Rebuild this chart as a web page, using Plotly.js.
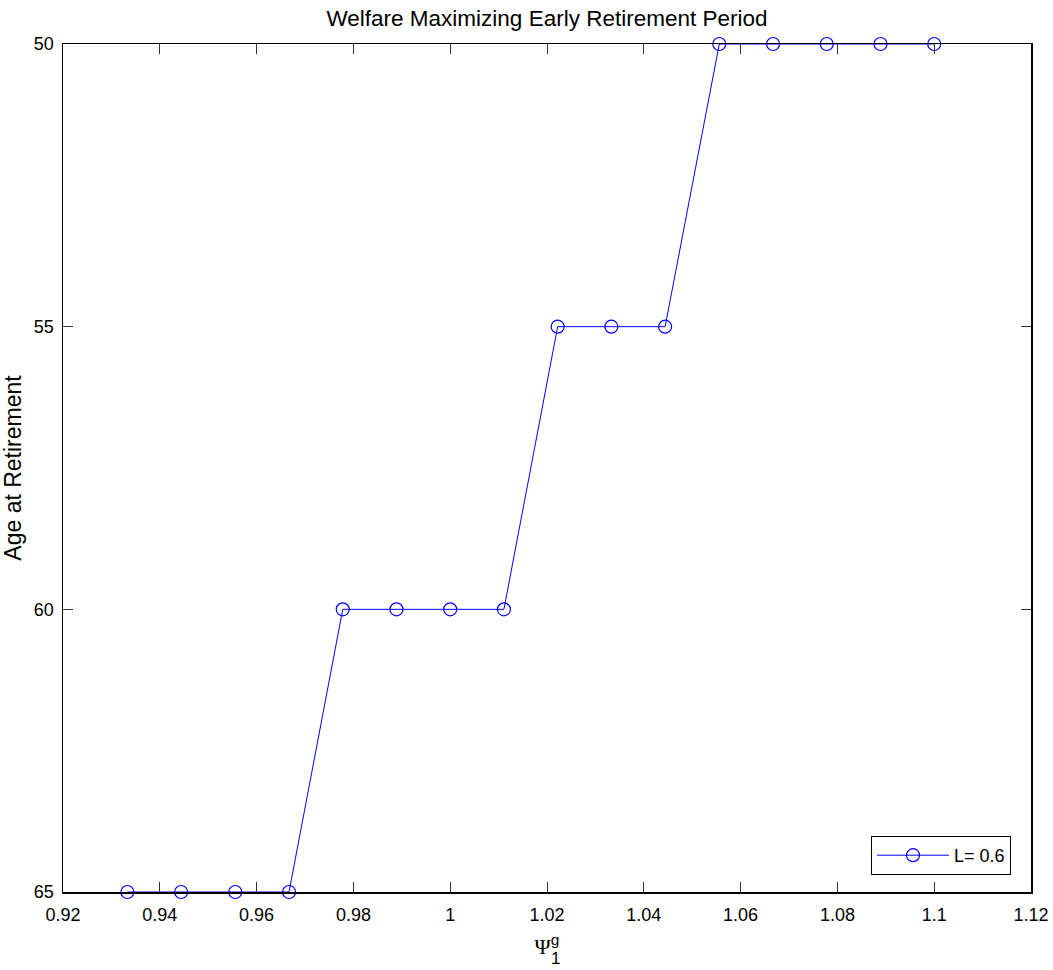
<!DOCTYPE html>
<html>
<head>
<meta charset="utf-8">
<script src="https://cdn.plot.ly/plotly-3.0.1.min.js"></script>
<style>html,body{margin:0;padding:0;background:#fff;}#chart{width:1053px;height:970px;}</style>
</head>
<body>
<div id="chart"></div>
<script>
const psiValues = [0.9333, 0.9444, 0.9556, 0.9667, 0.9778, 0.9889, 1.0, 1.0111, 1.0222, 1.0333, 1.0444, 1.0556, 1.0667, 1.0778, 1.0889, 1.1];
const retirementAge = [65, 65, 65, 65, 60, 60, 60, 60, 55, 55, 55, 50, 50, 50, 50, 50];
const seriesName = 'L= 0.6';
const xTickVals = [0.92, 0.94, 0.96, 0.98, 1.0, 1.02, 1.04, 1.06, 1.08, 1.1, 1.12];
const xTickText = ['0.92', '0.94', '0.96', '0.98', '1', '1.02', '1.04', '1.06', '1.08', '1.1', '1.12'];
const yTickVals = [50, 55, 60, 65];
const yTickText = ['50', '55', '60', '65'];

const FONT = 'Liberation Sans, Arial, Helvetica, sans-serif';

const trace = {
  x: psiValues,
  y: retirementAge,
  name: seriesName,
  type: 'scatter',
  mode: 'lines+markers',
  line: {color: '#0000ff', width: 1},
  marker: {symbol: 'circle-open', size: 13, color: '#0000ff', line: {width: 1.2, color: '#0000ff'}},
  cliponaxis: false,
  showlegend: true
};

const layout = {
  width: 1053,
  height: 970,
  paper_bgcolor: '#ffffff',
  plot_bgcolor: '#ffffff',
  margin: {l: 63, r: 22, t: 44, b: 78},
  font: {family: FONT, size: 18, color: '#000000'},
  title: {
    text: 'Welfare Maximizing Early Retirement Period',
    font: {family: FONT, size: 22.5, color: '#000000'},
    x: (63 + 1031) / 2 / 1053, xanchor: 'center', xref: 'container',
    y: 1 - 18.6 / 970, yanchor: 'middle', yref: 'container'
  },
  xaxis: {
    range: [0.92, 1.12],
    tickmode: 'array', tickvals: xTickVals, ticktext: xTickText,
    ticks: 'inside', ticklen: 10, tickwidth: 1, tickcolor: '#333333',
    showline: true, linecolor: '#000000', linewidth: 1.5, mirror: 'ticks',
    showgrid: false, zeroline: false,
    tickfont: {family: FONT, size: 18, color: '#000000'},
    ticklabelstandoff: 6,
    title: {
      text: '<span style="font-family:Liberation Serif, serif">Ψ</span><sup>g</sup>',
      font: {family: FONT, size: 22, color: '#000000'},
      standoff: 14
    }
  },
  yaxis: {
    range: [65, 50],
    tickmode: 'array', tickvals: yTickVals, ticktext: yTickText,
    ticks: 'inside', ticklen: 10, tickwidth: 1, tickcolor: '#333333',
    showline: true, linecolor: '#000000', linewidth: 1.5, mirror: 'ticks',
    showgrid: false, zeroline: false,
    tickfont: {family: FONT, size: 18, color: '#000000'},
    ticklabelstandoff: 4,
    title: {
      text: 'Age at Retirement',
      font: {family: FONT, size: 23, color: '#000000'},
      standoff: 8
    }
  },
  legend: {
    x: (1011 - 63) / 968, xanchor: 'right',
    y: (892 - 875) / 848, yanchor: 'bottom',
    bgcolor: '#ffffff', bordercolor: '#000000', borderwidth: 1,
    font: {family: FONT, size: 18, color: '#000000'},
    itemwidth: 72
  },
  annotations: [{
    text: '1',
    xref: 'paper', yref: 'paper',
    x: (555 - 63) / 968, y: (892 - 958.5) / 848,
    xanchor: 'center', yanchor: 'middle',
    showarrow: false,
    font: {family: FONT, size: 17, color: '#000000'}
  }]
};

Plotly.newPlot('chart', [trace], layout, {staticPlot: true, displayModeBar: false});
</script>
</body>
</html>
